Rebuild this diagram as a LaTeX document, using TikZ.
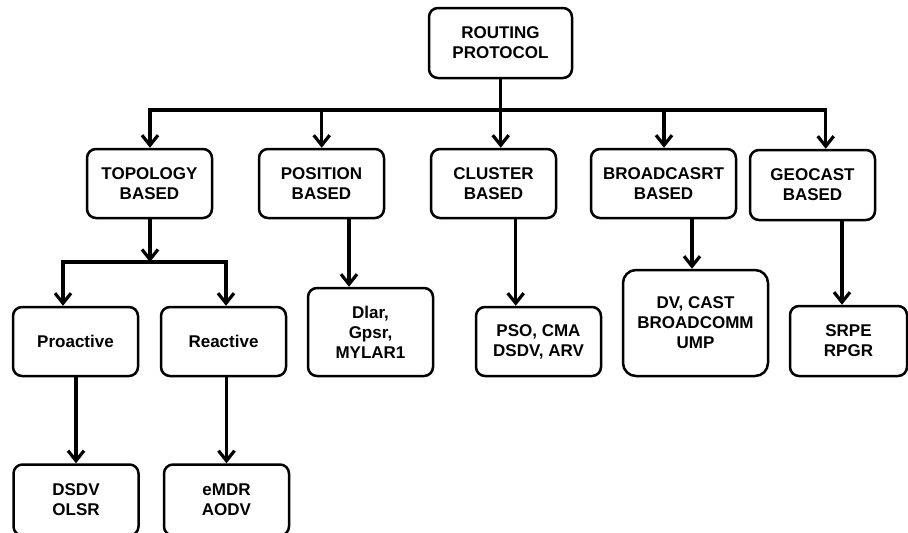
\documentclass[tikz,border=0pt]{standalone}
\usepackage{fontspec}
\setmainfont{Liberation Sans}
\usetikzlibrary{arrows.meta}
\begin{document}
\begin{tikzpicture}[x=1pt,y=-1pt,
  box/.style={draw, line width=2.5pt, rounded corners=9pt, align=center,
    font=\bfseries\fontsize{17}{20}\selectfont, inner sep=0pt},
  link/.style={line width=3.2pt},
  arr/.style={link, -{Straight Barb[length=10pt,width=16pt]}}]
\useasboundingbox (0,0) rectangle (908,533);
\fill[white] (0,0) rectangle (908,533);
\clip (0,0) rectangle (908,533);

% top level
\node[box, minimum width=143pt, minimum height=70pt] (root) at (500.5,43) {ROUTING\\PROTOCOL};

% second level
\node[box, minimum width=125pt, minimum height=69pt] (topo) at (149.5,183.5) {TOPOLOGY\\BASED};
\node[box, minimum width=125pt, minimum height=69pt] (pos) at (321.5,183.5) {POSITION\\BASED};
\node[box, minimum width=125pt, minimum height=69pt] (clus) at (493.5,183.5) {CLUSTER\\BASED};
\node[box, minimum width=145pt, minimum height=69pt] (bcast) at (663.5,183.5) {BROADCASRT\\BASED};
\node[box, minimum width=125pt, minimum height=70pt] (geo) at (812.5,185) {GEOCAST\\BASED};

% third level
\node[box, minimum width=125pt, minimum height=69pt] (pro) at (75.5,341.5) {Proactive};
\node[box, minimum width=125pt, minimum height=69pt] (rea) at (223.5,341.5) {Reactive};
\node[box, minimum width=125pt, minimum height=88pt] (dlar) at (370.5,332) {Dlar,\\Gpsr,\\MYLAR1};
\node[box, minimum width=125pt, minimum height=69pt] (pso) at (538.5,341.5) {PSO, CMA\\DSDV, ARV};
\node[box, rounded corners=13pt, minimum width=145pt, minimum height=106pt] (dv) at (695.5,323) {DV, CAST\\BROADCOMM\\UMP};
\node[box, minimum width=117pt, minimum height=70pt] (srpe) at (848.5,341) {SRPE\\RPGR};

% fourth level
\node[box, minimum width=125pt, minimum height=71pt] (dsdv) at (76,500) {DSDV\\OLSR};
\node[box, minimum width=125pt, minimum height=71pt] (emdr) at (226.5,500) {eMDR\\AODV};

% main bus below the root
\coordinate (b1) at (150,110);
\coordinate (b2) at (321.7,110);
\coordinate (b3) at (500.7,110);
\coordinate (b4) at (664,110);
\coordinate (b5) at (825.7,110);
\draw[link] (root.south -| b3) -- (b3);
\draw[link, line cap=rect] (b1) -- (b5);
\draw[arr] (b1) -- (b1 |- topo.north);
\draw[arr] (b2) -- (b2 |- pos.north);
\draw[arr] (b3) -- (b3 |- clus.north);
\draw[arr] (b4) -- (b4 |- bcast.north);
\draw[arr] (b5) -- (b5 |- geo.north);

% topology branch
\coordinate (t0) at (150,262);
\coordinate (t1) at (63,262);
\coordinate (t2) at (226,262);
\draw[arr] (topo.south -| t0) -- (t0);
\draw[link, line cap=rect] (t1) -- (t2);
\draw[arr] (t1) -- (t1 |- pro.north);
\draw[arr] (t2) -- (t2 |- rea.north);
\draw[arr] (pro.south -| dsdv.north) -- (dsdv.north);
\draw[arr] (rea.south -| emdr.north) -- (emdr.north);

% remaining branches
\coordinate (p1) at (349,0);
\coordinate (c1) at (515.7,0);
\coordinate (d1) at (692,0);
\coordinate (g1) at (842,0);
\draw[arr] (pos.south -| p1) -- (dlar.north -| p1);
\draw[arr] (clus.south -| c1) -- (pso.north -| c1);
\draw[arr] (bcast.south -| d1) -- (dv.north -| d1);
\draw[arr] (geo.south -| g1) -- (srpe.north -| g1);
\end{tikzpicture}
\end{document}
